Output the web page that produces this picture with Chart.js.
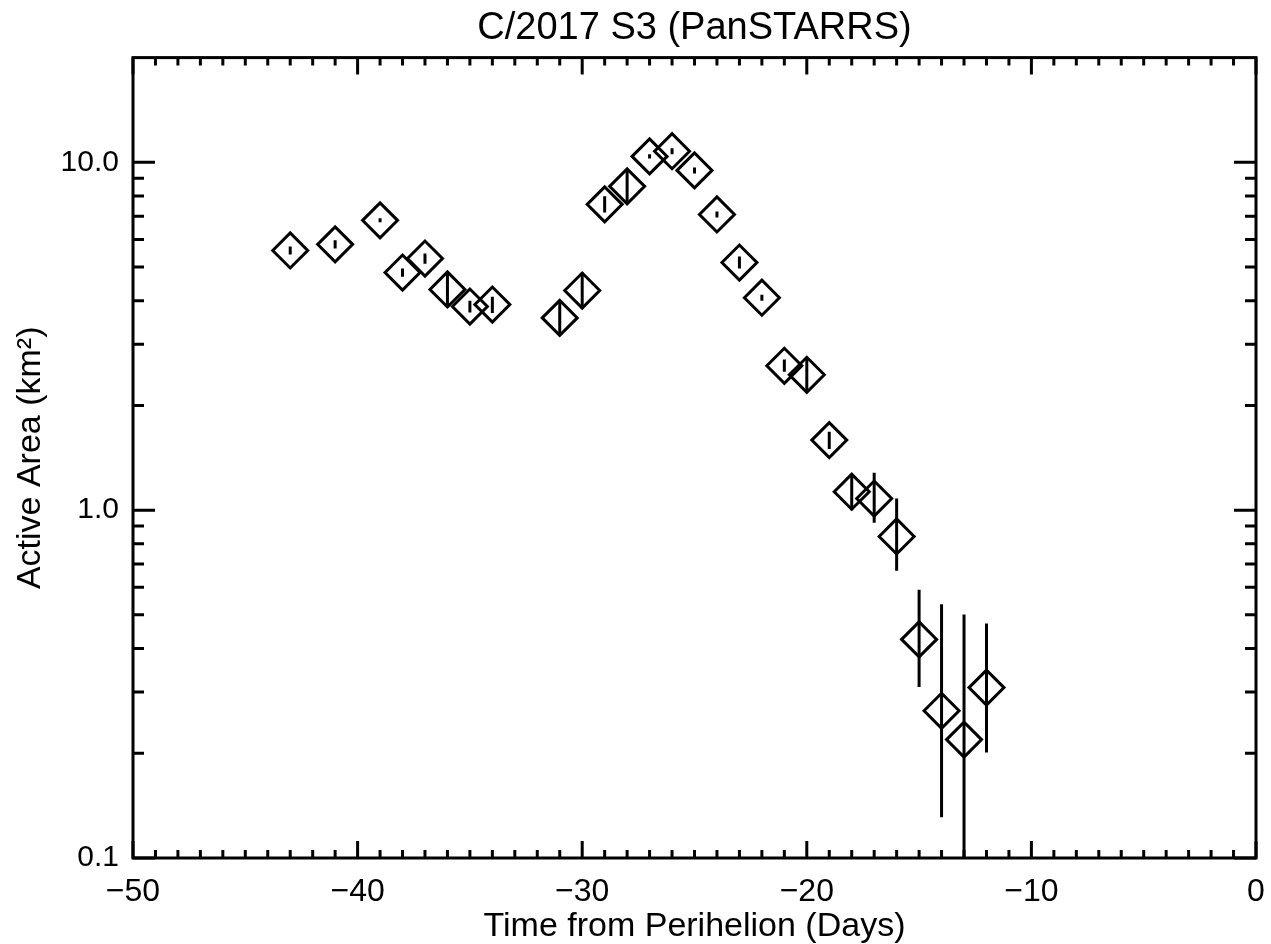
<!DOCTYPE html>
<html>
<head>
<meta charset="utf-8">
<title>C/2017 S3 (PanSTARRS)</title>
<script src="https://cdn.jsdelivr.net/npm/chart.js@4.4.1/dist/chart.umd.min.js"></script>
<style>
  html, body { margin: 0; padding: 0; background: #fff; }
  #wrap { width: 1271px; height: 944px; }
</style>
</head>
<body>
<div id="wrap"><canvas id="area-chart" width="1271" height="944"></canvas></div>
<script>
// --- DATA ---
const days = [-43, -41, -39, -38, -37, -36, -35, -34, -31, -30, -29, -28, -27, -26,
              -25, -24, -23, -22, -21, -20, -19, -18, -17, -16, -15, -14, -13, -12];
const activeArea = [5.58, 5.81, 6.81, 4.82, 5.29, 4.31, 3.85, 3.90, 3.57, 4.28, 7.57, 8.53, 10.4, 10.76,
                    9.48, 7.08, 5.15, 4.08, 2.60, 2.45, 1.59, 1.13, 1.08, 0.84, 0.425, 0.265, 0.219, 0.309];
const areaLow  = [5.43, 5.65, 6.72, 4.69, 5.11, 3.86, 3.70, 3.69, 3.19, 3.80, 7.17, 7.70, 10.26, 10.55,
                  9.29, 6.94, 4.95, 4.00, 2.50, 2.19, 1.50, 1.00, 0.92, 0.67, 0.31, 0.131, 0.05, 0.201];
const areaHigh = [5.73, 5.97, 6.90, 4.95, 5.47, 4.81, 4.00, 4.11, 3.99, 4.82, 7.99, 9.45, 10.54, 10.97,
                  9.67, 7.22, 5.36, 4.16, 2.71, 2.74, 1.68, 1.27, 1.28, 1.08, 0.59, 0.536, 0.501, 0.472];

const xTickValues = [-50, -40, -30, -20, -10, 0];
const yTickValues = [0.1, 1, 10];
const yMinorValues = [0.2, 0.3, 0.4, 0.5, 0.6, 0.7, 0.8, 0.9, 2, 3, 4, 5, 6, 7, 8, 9];

const FONT = "'Liberation Sans', Arial, sans-serif";

// --- PLUGIN: IDL-style frame, inward ticks, error bars ---
const idlFrame = {
    id: 'idlFrame',
    beforeDatasetsDraw(chart) {
        const { ctx, chartArea: a, scales: { x, y } } = chart;
        ctx.save();
        ctx.beginPath();
        ctx.rect(a.left, a.top, a.right - a.left, a.bottom - a.top);
        ctx.clip();
        ctx.strokeStyle = '#000';
        ctx.lineWidth = 3;
        ctx.beginPath();
        for (let i = 0; i < days.length; i++) {
            const px = x.getPixelForValue(days[i]);
            ctx.moveTo(px, y.getPixelForValue(areaLow[i]));
            ctx.lineTo(px, y.getPixelForValue(areaHigh[i]));
        }
        ctx.stroke();
        ctx.restore();
    },
    afterDraw(chart) {
        const { ctx, chartArea: a, scales: { x, y } } = chart;
        ctx.save();
        ctx.strokeStyle = '#000';
        ctx.lineWidth = 3;
        ctx.beginPath();

        // x ticks: every day, longer every 10 days
        for (let v = x.min; v <= x.max; v++) {
            const px = x.getPixelForValue(v);
            const len = xTickValues.includes(v) ? 17 : 8;
            ctx.moveTo(px, a.bottom); ctx.lineTo(px, a.bottom - len);
            ctx.moveTo(px, a.top);    ctx.lineTo(px, a.top + len);
        }
        // y ticks
        const yTicks = yTickValues.map(v => [v, 22]).concat(yMinorValues.map(v => [v, 11]));
        yTicks.forEach(([v, len]) => {
            const py = y.getPixelForValue(v);
            ctx.moveTo(a.left, py);  ctx.lineTo(a.left + len, py);
            ctx.moveTo(a.right, py); ctx.lineTo(a.right - len, py);
        });
        ctx.stroke();

        ctx.strokeRect(a.left, a.top, a.right - a.left, a.bottom - a.top);
        ctx.restore();
    }
};

// --- CHART ---
new Chart(document.getElementById('area-chart'), {
    type: 'scatter',
    data: {
        datasets: [{
            data: days.map((d, i) => ({ x: d, y: activeArea[i] })),
            pointStyle: 'rectRot',
            pointRadius: 17.5,
            pointHoverRadius: 17.5,
            pointBorderWidth: 3,
            pointHoverBorderWidth: 3,
            borderColor: '#000',
            backgroundColor: 'rgba(0,0,0,0)'
        }]
    },
    options: {
        responsive: false,
        animation: false,
        events: [],
        layout: { autoPadding: false, padding: { left: 0, right: 15, top: 0, bottom: 0 } },
        plugins: {
            legend: { display: false },
            tooltip: { enabled: false },
            title: {
                display: true,
                fullSize: false,
                text: 'C/2017 S3 (PanSTARRS)',
                color: '#000',
                font: { family: FONT, size: 38, weight: 'normal', lineHeight: 1.2 },
                padding: { top: 6, bottom: 6 }
            }
        },
        scales: {
            x: {
                type: 'linear',
                min: -50,
                max: 0,
                // ticks not drawn here (plugin draws them), tickLength only offsets the labels
                grid: { display: false, drawTicks: true, tickLength: 15 },
                border: { display: false },
                afterBuildTicks: s => { s.ticks = xTickValues.map(v => ({ value: v })); },
                afterFit: s => { s.height = 86; },
                ticks: {
                    color: '#000',
                    padding: 0,
                    autoSkip: false,
                    maxRotation: 0,
                    font: { family: FONT, size: 32 },
                    callback: v => String(v).replace('-', '\u2212')
                },
                title: {
                    display: true,
                    text: 'Time from Perihelion (Days)',
                    color: '#000',
                    font: { family: FONT, size: 34, lineHeight: 1.0 },
                    padding: { top: 0, bottom: 0 }
                }
            },
            y: {
                type: 'logarithmic',
                min: 0.1,
                max: 20,
                grid: { display: false, drawTicks: false },
                border: { display: false },
                afterBuildTicks: s => { s.ticks = yTickValues.map(v => ({ value: v })); },
                afterFit: s => { s.width = 133; },
                ticks: {
                    color: '#000',
                    padding: 14,
                    autoSkip: false,
                    font: { family: FONT, size: 30 },
                    callback: v => Number(v).toFixed(1)
                },
                title: {
                    display: true,
                    text: 'Active Area (km\u00B2)',
                    color: '#000',
                    font: { family: FONT, size: 34 },
                    padding: { top: 10, bottom: 0 }
                }
            }
        }
    },
    plugins: [idlFrame]
});
</script>
</body>
</html>
